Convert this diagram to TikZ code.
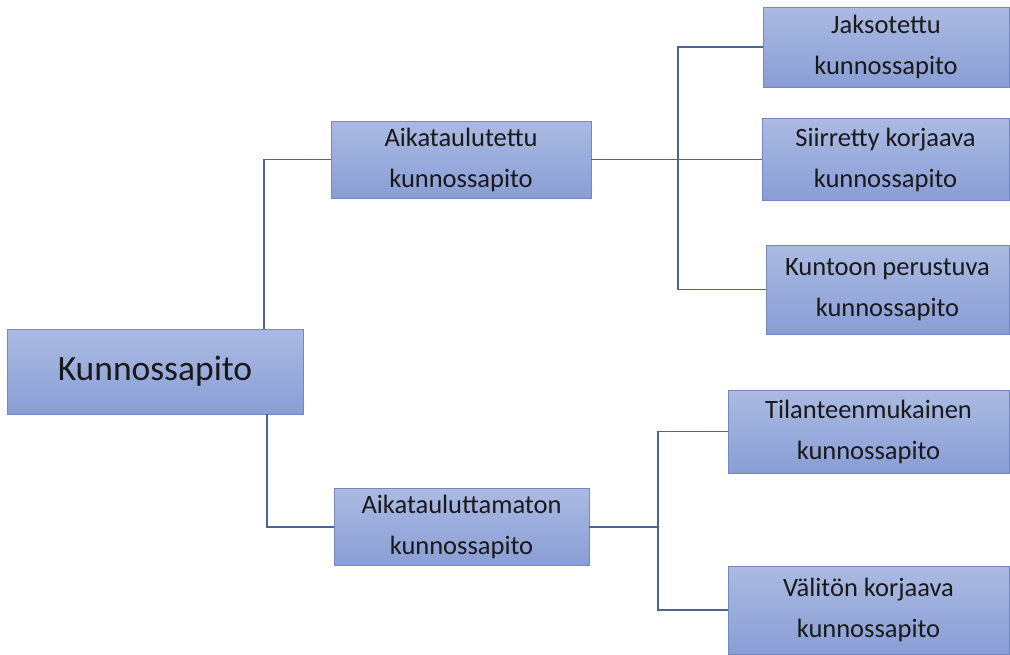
\documentclass[tikz,border=0pt]{standalone}
\usepackage{fontspec}
\setmainfont{Carlito}
\definecolor{boxtop}{HTML}{AABAE2}
\definecolor{boxbot}{HTML}{8A9ED6}
\definecolor{boxedge}{HTML}{7388C0}
\definecolor{linkcol}{HTML}{4A6593}
\begin{document}
\begin{tikzpicture}[x=1pt,y=-1pt,
  box/.style={rectangle, draw=boxedge, line width=0.8pt, top color=boxtop, bottom color=boxbot,
    inner sep=0pt, align=center, text=black!90, font=\fontsize{26.5}{41}\selectfont},
  link/.style={draw=linkcol, line width=1.3pt}]
\useasboundingbox (0,0) rectangle (1010,654);
\clip (0,0) rectangle (1010,654);
\fill[white] (0,0) rectangle (1010,654);
\node[box, minimum width=296pt, minimum height=85pt, font=\fontsize{35.5}{42}\selectfont] (K) at (155,371.5) {Kunnossapito};
\node[box, minimum width=260pt, minimum height=77pt] (A1) at (461,159.5) {Aikataulutettu\\kunnossapito};
\node[box, minimum width=255pt, minimum height=77pt] (A2) at (461.5,527) {Aikatauluttamaton\\kunnossapito};
\node[box, minimum width=246pt, minimum height=80pt] (J) at (886,47) {Jaksotettu\\kunnossapito};
\node[box, minimum width=247pt, minimum height=82pt] (S) at (885.5,159.5) {Siirretty korjaava\\kunnossapito};
\node[box, minimum width=243pt, minimum height=89pt] (Ku) at (887.5,289.5) {Kuntoon perustuva\\kunnossapito};
\node[box, minimum width=281pt, minimum height=83pt] (T) at (868.5,431.5) {Tilanteenmukainen\\kunnossapito};
\node[box, minimum width=281pt, minimum height=88pt] (V) at (868.5,610) {Välitön korjaava\\kunnossapito};
\coordinate (j1) at (264,159.5);
\coordinate (j2) at (267,527);
\coordinate (c1) at (678,159.5);
\coordinate (c2) at (658,527);
\draw[link] (K.north -| j1) -- (j1) -- (A1.west);
\draw[link] (K.south -| j2) -- (j2) -- (A2.west);
\draw[link] (A1.east) -- (S.west);
\draw[link] (J.west) -- (J.west -| c1) -- (Ku.west -| c1) -- (Ku.west);
\draw[link] (A2.east) -- (c2);
\draw[link] (T.west) -- (T.west -| c2) -- (V.west -| c2) -- (V.west);
\end{tikzpicture}
\end{document}
